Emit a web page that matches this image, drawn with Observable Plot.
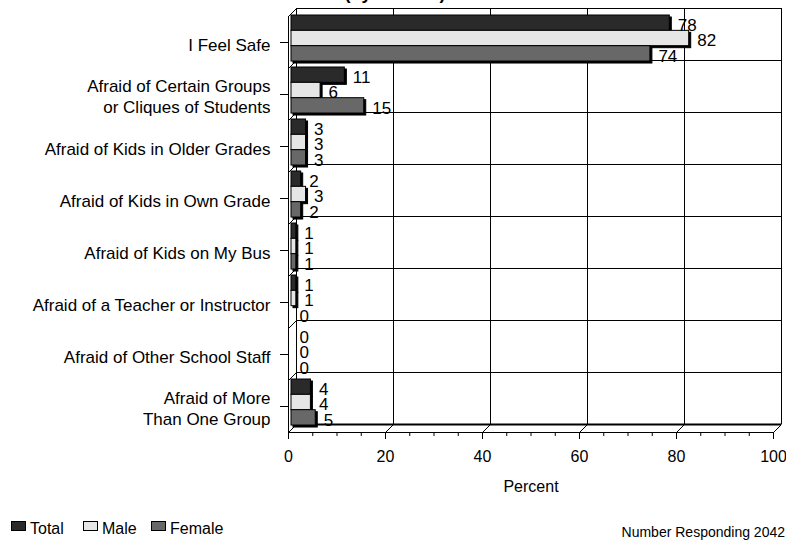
<!DOCTYPE html>
<html><head><meta charset="utf-8">
<script src="https://cdn.jsdelivr.net/npm/d3@7"></script>
<script src="https://cdn.jsdelivr.net/npm/@observablehq/plot@0.6"></script>
<style>
body{margin:0;background:#fff;font-family:"Liberation Sans",Arial,sans-serif;color:#000;}
#wrap{position:relative;width:786px;height:540px;overflow:hidden;}
#title{position:absolute;left:0;top:-16px;width:786px;text-align:center;padding-left:4px;box-sizing:border-box;font-weight:bold;font-size:18px;line-height:18px;}
#foot{position:relative;width:786px;height:40px;}
.sw{position:absolute;top:21px;width:15px;height:10px;border:1px solid #000;box-sizing:border-box;}
.lb{position:absolute;top:20px;font-size:16px;line-height:18px;white-space:nowrap;}
#cap{position:absolute;right:1px;top:24px;font-size:14px;line-height:16px;white-space:nowrap;}
</style></head><body>
<div id="wrap">
<div id="chart"></div>
<div id="title">(by Gender)</div>
<div id="foot"></div>
</div>
<script>
const categories = [
  "I Feel Safe",
  "Afraid of Certain Groups\nor Cliques of Students",
  "Afraid of Kids in Older Grades",
  "Afraid of Kids in Own Grade",
  "Afraid of Kids on My Bus",
  "Afraid of a Teacher or Instructor",
  "Afraid of Other School Staff",
  "Afraid of More\nThan One Group"
];
const series = ["Total", "Male", "Female"];
const total  = [78, 11, 3, 2, 1, 1, 0, 4];
const male   = [82,  6, 3, 3, 1, 1, 0, 4];
const female = [74, 15, 3, 2, 1, 0, 0, 5];
const xTicks = [0, 20, 40, 60, 80, 100];
const xLabel = "Percent";
const caption = "Number Responding 2042";

// layout / style
const W = 786, H = 500, mL = 288, mR = 13, mT = 16, mB = 68, depth = 8;
const colors = ["#2a2a2a", "#e6e6e6", "#686868"];
const n = categories.length;
const ux = 100 / (W - mL - mR);
const uy = n / (H - mT - mB);
const step = 0.295;

const values = [total, male, female];
const rows = categories.flatMap((c, i) => series.map((s, j) => ({i, j, series: s, value: values[j][i]})));
const minor = d3.range(0, 101, 5).filter(v => !xTicks.includes(v));
const rowEdges = d3.range(0, n + 1);

const chart = Plot.plot({
  width: W, height: H,
  marginLeft: mL, marginRight: mR, marginTop: mT, marginBottom: mB,
  style: {fontFamily: "'Liberation Sans', Arial, sans-serif", color: "#000", background: "#fff"},
  x: {domain: [0, 100], axis: null, label: null},
  y: {domain: [0, n], reverse: true, axis: null, label: null},
  color: {domain: series, range: colors},
  marks: [
    // back wall
    Plot.ruleX(xTicks, {dx: depth, dy: -depth, stroke: "#000", strokeWidth: 1}),
    Plot.ruleY(rowEdges, {dx: depth, dy: -depth, stroke: "#000", strokeWidth: 1}),
    Plot.ruleY([n], {dx: depth, dy: -depth, stroke: "#000", strokeWidth: 2}),
    // side wall diagonals
    Plot.link(rowEdges, {x1: 0, y1: d => d, x2: depth * ux, y2: d => d - depth * uy, stroke: "#000", strokeWidth: 1}),
    // floor diagonals
    Plot.link(xTicks, {x1: d => d, y1: n, x2: d => d + depth * ux, y2: n - depth * uy, stroke: "#000", strokeWidth: 1}),
    // front axis lines
    Plot.ruleX([0], {stroke: "#000"}),
    Plot.ruleY([n], {stroke: "#000"}),
    Plot.ruleX(minor, {y1: n, y2: n + 4 * uy, stroke: "#000"}),
    // bar shadows
    Plot.rectX(rows, {x1: 0, x2: "value", y1: d => d.i + d.j * step, y2: d => d.i + (d.j + 1) * step, fill: "#000", stroke: "#000", strokeWidth: 1, dx: 5, dy: 1}),
    // bars
    Plot.rectX(rows, {x1: 0, x2: "value", y1: d => d.i + d.j * step, y2: d => d.i + (d.j + 1) * step, fill: "series", stroke: "#000", strokeWidth: 1, dx: 3, dy: -1}),
    // value labels
    Plot.text(rows, {x: "value", y: d => d.i + (d.j + 0.5) * step, text: d => String(d.value), textAnchor: "start", dx: 11, dy: 1.5, fontSize: 17, fill: "#000"}),
    // axes
    Plot.axisY(d3.range(n).map(i => i + 0.5), {tickFormat: d => categories[Math.floor(d)], tickSize: 8, tickPadding: 10, fontSize: 17, lineHeight: 1.22, label: null, stroke: "#000", textStroke: null}),
    Plot.text(d3.range(n).map(i => i + 0.5), {x: 0, y: d => d, text: d => categories[Math.floor(d)], textAnchor: "end", dx: -18, dy: 1.5, fontSize: 17, lineHeight: 1.22, fill: "#000", opacity: 0}),
    Plot.axisX(xTicks, {tickSize: 7, tickPadding: 11, fontSize: 16, label: null, stroke: "#000"}),
    Plot.text([xLabel], {frameAnchor: "bottom", dy: 59, fontSize: 16, fill: "#000"})
  ]
});
document.getElementById("chart").appendChild(chart);
// nudge category labels slightly downward to match reference
chart.querySelectorAll("g[aria-label='y-axis tick label']").forEach(g => {
  g.setAttribute("transform", (g.getAttribute("transform") || "") + " translate(0,1.5)");
});
chart.querySelectorAll("g[aria-label='text']").forEach(g => { if (g.getAttribute("opacity") === "0") g.remove(); });

// legend + caption
const foot = document.getElementById("foot");
const legendX = [11, 83, 151];
series.forEach((s, j) => {
  const sw = document.createElement("div");
  sw.className = "sw"; sw.style.left = legendX[j] + "px"; sw.style.background = colors[j];
  const lb = document.createElement("div");
  lb.className = "lb"; lb.style.left = (legendX[j] + 19) + "px"; lb.textContent = s;
  foot.appendChild(sw); foot.appendChild(lb);
});
const cap = document.createElement("div");
cap.id = "cap"; cap.textContent = caption;
foot.appendChild(cap);
</script>
</body></html>
